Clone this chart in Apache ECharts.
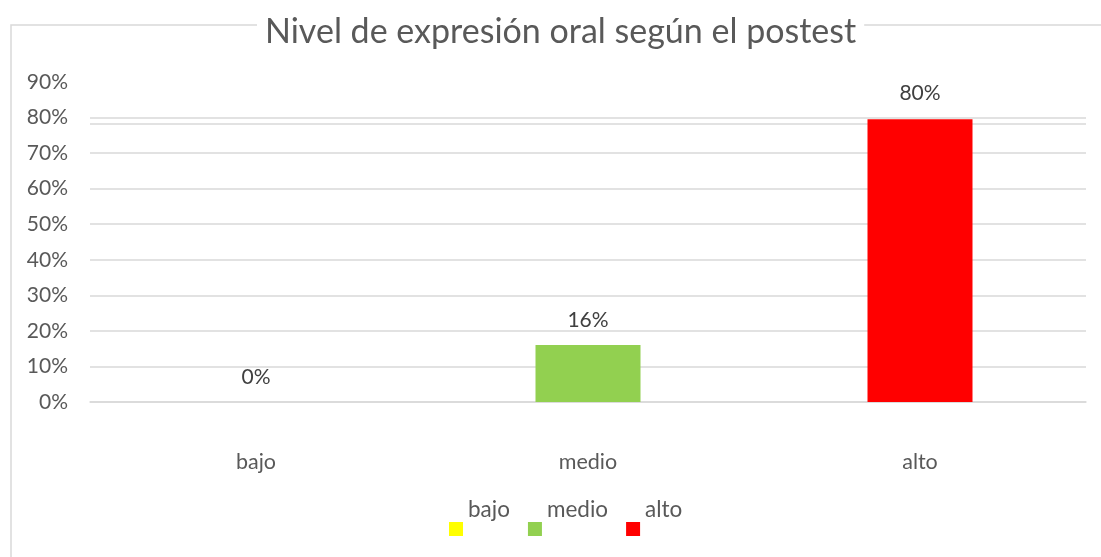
<!DOCTYPE html>
<html>
<head>
<meta charset="utf-8">
<script src="https://cdn.jsdelivr.net/npm/echarts@6/dist/echarts.min.js"></script>
<style>
html,body{margin:0;padding:0;background:#fff;}
#chart{width:1101px;height:557px;}
</style>
</head>
<body>
<div id="chart"></div>
<script>
const categories = ['bajo', 'medio', 'alto'];
const seriesNames = ['bajo', 'medio', 'alto'];
const bajoValues = [0, '-', '-'];
const medioValues = ['-', 16, '-'];
const altoValues = ['-', '-', 79.5];
const yTicks = [0, 10, 20, 30, 40, 50, 60, 70, 80, 90];
const refLineValue = 78.3;
const colors = ['#FFFF00', '#92D050', '#FF0000'];

const font = 'Lato, "Open Sans", sans-serif';
const chart = echarts.init(document.getElementById('chart'), null, {renderer: 'canvas'});

const gridColors = yTicks.map((v, i) => i === yTicks.length - 1 ? 'rgba(0,0,0,0)' : '#d9d9d9');

function makeSeries(name, data, color, extra) {
  return Object.assign({
    name: name,
    type: 'bar',
    stack: 'all',
    barWidth: 105,
    z: 3,
    data: data,
    itemStyle: {color: color},
    label: {
      show: true,
      position: 'top',
      distance: 14,
      fontFamily: font,
      fontSize: 21,
      color: '#404040',
      formatter: p => Math.round(p.value) + '%'
    }
  }, extra || {});
}

chart.setOption({
  animation: false,
  backgroundColor: '#fff',
  graphic: [{
    type: 'rect',
    z: -10,
    silent: true,
    shape: {x: 11, y: 25, width: 1300, height: 800},
    style: {fill: 'none', stroke: '#d9d9d9', lineWidth: 1.5}
  }],
  title: {
    text: 'Nivel de expresión oral según el postest',
    left: 257,
    top: 15,
    padding: [0, 8],
    backgroundColor: '#fff',
    z: 10,
    textStyle: {fontFamily: font, fontSize: 34, fontWeight: 'normal', color: '#595959'}
  },
  legend: {
    data: seriesNames,
    left: 444,
    top: 486,
    icon: 'rect',
    itemWidth: 14,
    itemHeight: 14,
    itemGap: 18,
    selectedMode: false,
    formatter: name => name + '\n ',
    textStyle: {fontFamily: font, fontSize: 22.5, color: '#595959', lineHeight: 38}
  },
  grid: {left: 90, right: 15, top: 82, bottom: 155, containLabel: false},
  xAxis: {
    type: 'category',
    data: categories,
    axisLine: {show: true, lineStyle: {color: '#d9d9d9', width: 1.5}},
    axisTick: {show: false},
    axisLabel: {fontFamily: font, fontSize: 21.5, color: '#595959', margin: 49}
  },
  yAxis: {
    type: 'value',
    min: 0,
    max: 90,
    interval: 10,
    axisLine: {show: false},
    axisTick: {show: false},
    axisLabel: {fontFamily: font, fontSize: 21, color: '#595959', margin: 22, formatter: '{value}%'},
    splitLine: {show: true, lineStyle: {color: gridColors, width: 1.5}}
  },
  series: [
    makeSeries(seriesNames[0], bajoValues, colors[0], {
      z: 1,
      markLine: {
        silent: true,
        symbol: 'none',
        z: 1,
        label: {show: false},
        lineStyle: {color: '#d9d9d9', type: 'solid', width: 1.5},
        data: [{yAxis: refLineValue}]
      }
    }),
    makeSeries(seriesNames[1], medioValues, colors[1]),
    makeSeries(seriesNames[2], altoValues, colors[2], {
      label: {
        show: true,
        position: 'top',
        distance: 16,
        fontFamily: font,
        fontSize: 21,
        color: '#404040',
        formatter: p => Math.round(p.value) + '%'
      }
    })
  ]
});
</script>
</body>
</html>
